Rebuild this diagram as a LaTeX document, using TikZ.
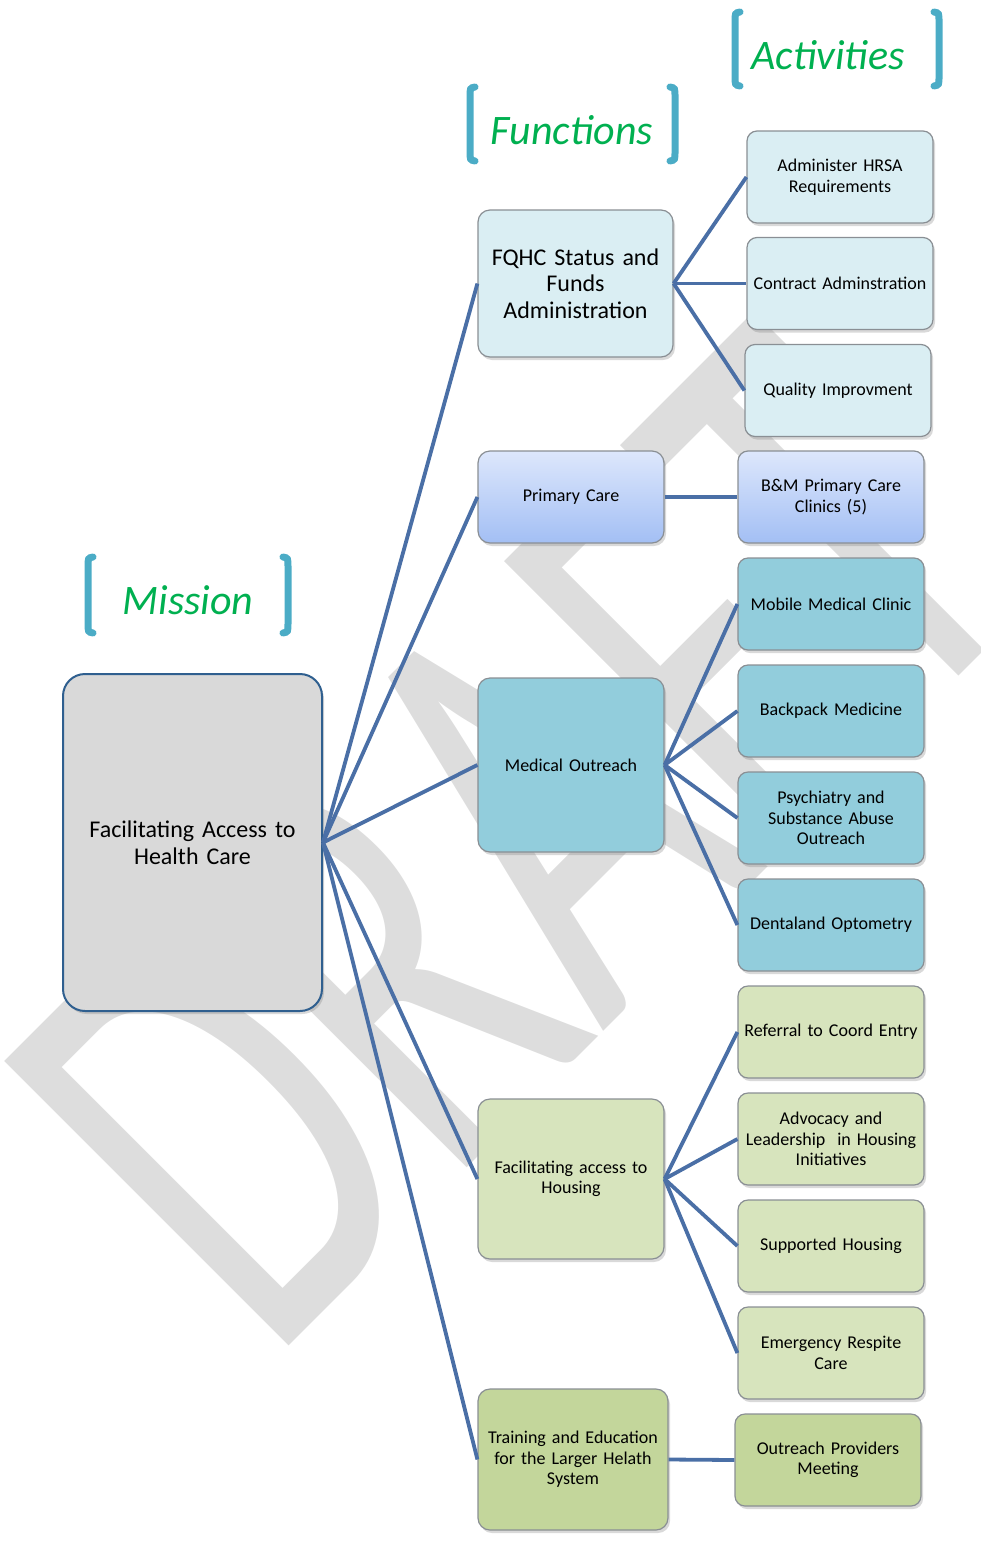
\documentclass[tikz,border=0pt]{standalone}
\usepackage{fontspec}
\setmainfont{Carlito}
\usetikzlibrary{shadows}

\definecolor{linkblue}{HTML}{4A6FA6}
\definecolor{missionblue}{HTML}{2F5F8F}
\definecolor{boxgray}{HTML}{8A8F94}
\definecolor{headgreen}{HTML}{00B050}
\definecolor{bracketblue}{HTML}{4BACC6}
\definecolor{wmgray}{HTML}{DDDDDD}
\definecolor{fqhcfill}{HTML}{DAEEF3}
\definecolor{primtop}{HTML}{DDE7FC}
\definecolor{primbot}{HTML}{A3BFF4}
\definecolor{medfill}{HTML}{92CDDC}
\definecolor{housefill}{HTML}{D7E4BD}
\definecolor{trainfill}{HTML}{C3D69B}

\begin{document}
\begin{tikzpicture}[x=1pt, y=-1pt,
    box/.style={draw=boxgray, line width=1.2pt, rounded corners=10pt, align=center,
      inner sep=3pt, text=black, font=\fontsize{18}{20.5}\selectfont,
      drop shadow={shadow xshift=2pt, shadow yshift=-3pt, opacity=0.3}},
    act/.style={box, minimum width=186pt, minimum height=92pt, text width=180pt},
    func/.style={box, rounded corners=12pt, minimum width=186pt, text width=180pt},
    heading/.style={text=headgreen, font=\fontsize{42}{50}\selectfont\itshape},
    bracket/.style={draw=bracketblue, line width=7pt, line cap=round},
    link/.style={draw=linkblue, line width=3.8pt},
    watermark/.style={text=wmgray, inner sep=0pt, font=\fontsize{627}{627}\selectfont}]
      \useasboundingbox (0, 0) rectangle (981, 1542);
      \clip (0, 0) rectangle (981, 1542);

      % watermark
      \node[watermark, rotate=45, xscale=0.65, anchor=base west] (draft) at (269, 1366) {DRAFT};

      % headings
      \node[heading] (mhead) at (188, 600) {Mission};
      \node[heading] (fhead) at (572, 130) {Functions};
      \node[heading] (ahead) at (828, 55) {Activities};

      \draw[bracket] (93, 557) .. controls (88, 558) .. (88, 567) -- (88, 623) .. controls (88, 632) .. (93, 633);
      \draw[bracket] (283, 557) .. controls (288, 558) .. (288, 567) -- (288, 623) .. controls (288, 632) .. (283, 633);
      \draw[bracket] (475, 87) .. controls (470, 88) .. (470, 97) -- (470, 151) .. controls (470, 160) .. (475, 161);
      \draw[bracket] (670, 87) .. controls (675, 88) .. (675, 97) -- (675, 151) .. controls (675, 160) .. (670, 161);
      \draw[bracket] (740, 12) .. controls (735, 13) .. (735, 22) -- (735, 76) .. controls (735, 85) .. (740, 86);
      \draw[bracket] (934, 12) .. controls (939, 13) .. (939, 22) -- (939, 76) .. controls (939, 85) .. (934, 86);

      % mission
      \node[box, draw=missionblue, line width=2pt, rounded corners=22pt, fill=black!15,
        minimum width=259pt, minimum height=337pt, text width=250pt,
        font=\fontsize{24}{26.5}\selectfont] (mission) at (192.5, 842.5)
        {Facilitating Access to\\Health Care};

      % functions
      \node[func, fill=fqhcfill, minimum width=195pt, text width=189pt, minimum height=147pt,
        font=\fontsize{24}{26.5}\selectfont] (fqhc) at (575.5, 283.5)
        {FQHC Status and\\Funds\\Administration};
      \node[func, top color=primtop, bottom color=primbot, minimum height=92pt] (primary) at (571, 497) {Primary Care};
      \node[func, fill=medfill, minimum height=174pt] (medical) at (571, 765) {Medical Outreach};
      \node[func, fill=housefill, minimum height=160pt] (housing) at (571, 1179) {Facilitating access to\\Housing};
      \node[func, fill=trainfill, minimum width=190pt, text width=184pt, minimum height=141pt] (training) at (573, 1459.5)
        {Training and Education\\for the Larger Helath\\System};

      % activities
      \node[act, fill=fqhcfill] (hrsa) at (840, 177) {Administer HRSA\\Requirements};
      \node[act, fill=fqhcfill] (contract) at (840, 283.5) {Contract Adminstration};
      \node[act, fill=fqhcfill] (quality) at (838, 390.5) {Quality Improvment};
      \node[act, top color=primtop, bottom color=primbot] (clinics) at (831, 497) {B\&M Primary Care\\Clinics (5)};
      \node[act, fill=medfill] (mobile) at (831, 604) {Mobile Medical Clinic};
      \node[act, fill=medfill] (backpack) at (831, 711) {Backpack Medicine};
      \node[act, fill=medfill] (psych) at (831, 818) {Psychiatry and\\Substance Abuse\\Outreach};
      \node[act, fill=medfill] (dental) at (831, 925) {Dentaland Optometry};
      \node[act, fill=housefill] (referral) at (831, 1032) {Referral to Coord Entry};
      \node[act, fill=housefill] (advocacy) at (831, 1139) {Advocacy and\\Leadership\ \ in Housing\\Initiatives};
      \node[act, fill=housefill] (supported) at (831, 1246) {Supported Housing};
      \node[act, fill=housefill] (respite) at (831, 1353) {Emergency Respite\\Care};
      \node[act, fill=trainfill] (providers) at (828, 1460) {Outreach Providers\\Meeting};

      % links
      \draw[link] (mission.east) -- (fqhc.west);
      \draw[link] (mission.east) -- (primary.west);
      \draw[link] (mission.east) -- (medical.west);
      \draw[link] (mission.east) -- (housing.west);
      \draw[link] (mission.east) -- (training.west);

      \draw[link] (fqhc.east) -- (hrsa.west);
      \draw[link] (fqhc.east) -- (contract.west);
      \draw[link] (fqhc.east) -- (quality.west);
      \draw[link] (primary.east) -- (clinics.west);
      \draw[link] (medical.east) -- (mobile.west);
      \draw[link] (medical.east) -- (backpack.west);
      \draw[link] (medical.east) -- (psych.west);
      \draw[link] (medical.east) -- (dental.west);
      \draw[link] (housing.east) -- (referral.west);
      \draw[link] (housing.east) -- (advocacy.west);
      \draw[link] (housing.east) -- (supported.west);
      \draw[link] (housing.east) -- (respite.west);
      \draw[link] (training.east) -- (providers.west);

   \end{tikzpicture}
\end{document}
